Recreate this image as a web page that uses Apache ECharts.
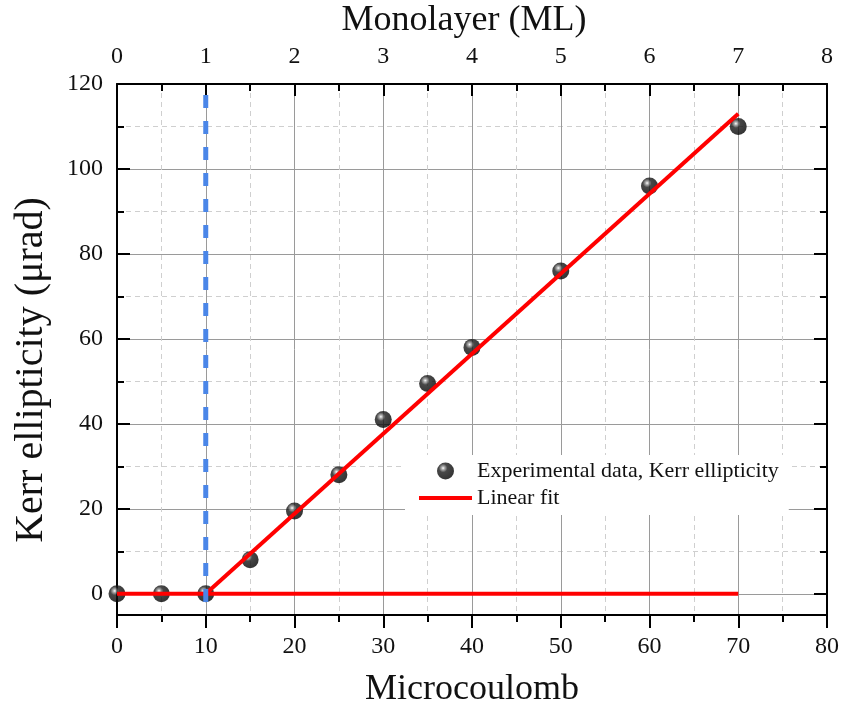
<!DOCTYPE html>
<html>
<head>
<meta charset="utf-8">
<script src="https://cdn.jsdelivr.net/npm/echarts@6/dist/echarts.min.js"></script>
<style>
  html, body { margin: 0; padding: 0; background: #fff; }
  #chart { width: 845px; height: 720px; }
</style>
</head>
<body>
<div id="chart"></div>
<script>
// Deposited charge (µC) and measured Kerr ellipticity (µrad)
const charge = [0, 5, 10, 15, 20, 25, 30, 35, 40, 50, 60, 70];
const kerr = [0, 0, 0, 8, 19.5, 28, 41, 49.5, 58, 76, 96, 110];

// Linear fit above the 1 ML threshold, and the zero baseline
const fitX = [10, 70];
const fitY = [0, 113];
const baseX = [0, 70];
const baseY = [0, 0];

// Threshold marker at 1 ML (10 µC)
const thresholdX = 10;

const FONT = '"Liberation Serif", "Times New Roman", serif';

const sphere = {
  type: 'radial', x: 0.36, y: 0.33, r: 0.72,
  colorStops: [
    { offset: 0, color: '#ffffff' },
    { offset: 0.12, color: '#a0a0a0' },
    { offset: 0.35, color: '#1a1a1a' },
    { offset: 1, color: '#000000' }
  ]
};

const chart = echarts.init(document.getElementById('chart'));

const axisLine = { show: true, onZero: false, lineStyle: { color: '#000', width: 2 } };
const labelStyle = { fontFamily: FONT, fontSize: 24, color: '#111' };
const titleStyle = { fontFamily: FONT, fontSize: 36, color: '#111' };

chart.setOption({
  animation: false,
  backgroundColor: '#fff',
  grid: { left: 117, right: 18, top: 84, bottom: 105, containLabel: false, outerBoundsMode: 'none' },
  graphic: [
    {
      type: 'text',
      x: 31, y: 370,
      rotation: Math.PI / 2,
      style: {
        text: 'Kerr ellipticity (μrad)',
        font: '40px ' + FONT,
        fill: '#111',
        align: 'center',
        verticalAlign: 'middle'
      }
    }
  ],
  legend: {
    data: [
      { name: 'Experimental data, Kerr ellipticity' },
      { name: 'Linear fit', itemStyle: { opacity: 0 }, lineStyle: { width: 4, color: '#ff0000' } }
    ],
    orient: 'vertical',
    left: 405, top: 455,
    itemWidth: 53, itemHeight: 17, itemGap: 5,
    padding: [5, 10, 6, 12],
    backgroundColor: '#fff',
    textStyle: { fontFamily: FONT, fontSize: 22, color: '#111' }
  },
  xAxis: [
    {
      type: 'value', position: 'bottom', min: 0, max: 80, interval: 10,
      name: 'Microcoulomb', nameLocation: 'middle', nameGap: 57,
      nameTextStyle: titleStyle,
      axisLine: axisLine,
      axisTick: { show: true, inside: false, length: 13, lineStyle: { color: '#000', width: 2 } },
      minorTick: { show: true, splitNumber: 2, length: 7, lineStyle: { color: '#000', width: 2 } },
      axisLabel: Object.assign({ margin: 20 }, labelStyle),
      splitLine: { show: true, lineStyle: { color: '#9a9a9a', width: 1 } },
      minorSplitLine: { show: true, lineStyle: { color: '#cfcfcf', width: 1, type: [5, 4] } }
    },
    {
      type: 'value', position: 'top', min: 0, max: 8, interval: 1,
      name: 'Monolayer (ML)', nameLocation: 'middle', nameGap: 45,
      nameTextStyle: Object.assign({ padding: [0, 16, 0, 0] }, titleStyle),
      axisLine: axisLine,
      axisTick: { show: true, inside: true, length: 12, lineStyle: { color: '#000', width: 2 } },
      minorTick: { show: true, splitNumber: 2, length: 7, lineStyle: { color: '#000', width: 2 } },
      axisLabel: Object.assign({ margin: 15 }, labelStyle),
      splitLine: { show: false }
    }
  ],
  yAxis: [
    {
      type: 'value', position: 'left', min: -5, max: 120, splitNumber: 6,
      axisLine: axisLine,
      axisTick: { show: true, inside: true, length: 13, lineStyle: { color: '#000', width: 2 } },
      minorTick: { show: true, splitNumber: 2, length: 7, lineStyle: { color: '#000', width: 2 } },
      axisLabel: Object.assign({ margin: 14, showMinLabel: false }, labelStyle),
      splitLine: { show: true, lineStyle: { color: '#9a9a9a', width: 1 } },
      minorSplitLine: { show: true, lineStyle: { color: '#cfcfcf', width: 1, type: [5, 4] } }
    },
    {
      type: 'value', position: 'right', min: -5, max: 120, splitNumber: 6,
      axisLine: axisLine,
      axisTick: { show: true, inside: true, length: 13, lineStyle: { color: '#000', width: 2 } },
      minorTick: { show: true, splitNumber: 2, length: 7, lineStyle: { color: '#000', width: 2 } },
      axisLabel: { show: false },
      splitLine: { show: false }
    }
  ],
  series: [
    {
      name: 'Experimental data, Kerr ellipticity',
      type: 'scatter',
      data: charge.map((c, i) => [c, kerr[i]]),
      symbol: 'circle', symbolSize: 17,
      itemStyle: { color: sphere },
      z: 3
    },
    {
      name: 'Linear fit',
      type: 'line',
      data: fitX.map((x, i) => [x, fitY[i]]),
      symbol: 'none',
      lineStyle: { color: '#ff0000', width: 4 },
      itemStyle: { color: '#ff0000' },
      z: 4
    },
    {
      name: 'Linear fit',
      type: 'line',
      data: baseX.map((x, i) => [x, baseY[i]]),
      symbol: 'none',
      lineStyle: { color: '#ff0000', width: 4 },
      itemStyle: { color: '#ff0000' },
      z: 4
    },
    {
      name: 'threshold',
      type: 'line',
      data: [[thresholdX, 120], [thresholdX, -5]],
      symbol: 'none',
      lineStyle: { color: '#4a86e8', width: 5, type: [13, 13], dashOffset: 15 },
      z: 5
    }
  ]
});
</script>
</body>
</html>
